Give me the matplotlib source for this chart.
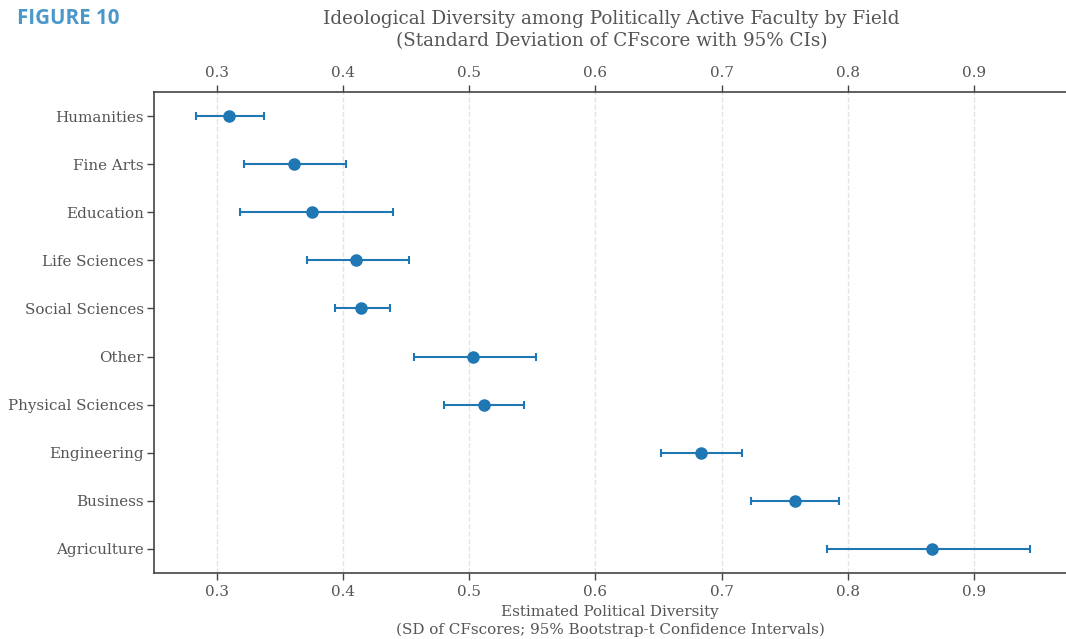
import numpy as np
import matplotlib
matplotlib.use("Agg")
import matplotlib.pyplot as plt

fields = ["Humanities", "Fine Arts", "Education", "Life Sciences", "Social Sciences",
          "Other", "Physical Sciences", "Engineering", "Business", "Agriculture"]
sd_est = [0.3095, 0.3606, 0.3753, 0.4105, 0.4143, 0.503, 0.5114, 0.684, 0.7578, 0.8671]
ci_low = [0.2829, 0.3214, 0.3181, 0.3713, 0.3937, 0.456, 0.4796, 0.6516, 0.723, 0.7839]
ci_high = [0.3371, 0.4022, 0.4395, 0.4525, 0.4371, 0.553, 0.5433, 0.7164, 0.7928, 0.9446]

txt = "#555555"
plt.rcParams["font.family"] = "DejaVu Serif"
plt.rcParams["text.color"] = txt
plt.rcParams["axes.labelcolor"] = txt
plt.rcParams["xtick.color"] = txt
plt.rcParams["ytick.color"] = txt

fig = plt.figure(figsize=(10.66, 6.39), dpi=100)
ax = fig.add_axes([154/1066, 1 - 573/639, 912/1066, (573-92)/639])

y = np.arange(len(fields))
est = np.array(sd_est)
err = np.vstack([est - np.array(ci_low), np.array(ci_high) - est])
ax.errorbar(est, y, xerr=err, fmt="o", color="#1f77b4", ms=8, elinewidth=1.5,
            capsize=3, capthick=1.5, zorder=3)

ax.set_yticks(y)
ax.set_yticklabels(fields, fontsize=10.9)
ax.set_ylim(len(fields) - 0.5, -0.5)
ax.set_xlim(0.25, 0.973)
ax.set_xticks([0.3, 0.4, 0.5, 0.6, 0.7, 0.8, 0.9])
ax.tick_params(axis="x", labelsize=10.9, top=True, labeltop=True, length=5, width=1,
               color="#444444", pad=3.5)
ax.tick_params(axis="y", length=5, width=1, color="#444444", pad=2.5)
ax.grid(axis="x", linestyle="--", color="#e3e3e3", linewidth=1)
ax.set_axisbelow(True)
for s in ["left", "top", "bottom"]:
    ax.spines[s].set_color("#444444")
    ax.spines[s].set_linewidth(1.2)
ax.spines["right"].set_visible(False)

ax.set_xlabel("Estimated Political Diversity\n(SD of CFscores; 95% Bootstrap-t Confidence Intervals)",
              fontsize=10.9, linespacing=1.35, labelpad=4.5)
fig.text(0.5735, 1 - 30/639, "Ideological Diversity among Politically Active Faculty by Field\n"
         "(Standard Deviation of CFscore with 95% CIs)", ha="center", va="center",
         fontsize=13.2, linespacing=1.3)
fig.text(17/1066, 1 - 18/639, "FIGURE 10", ha="left", va="center", fontsize=14.8,
         fontweight="bold", family="Open Sans", color="#4a98c9")

fig.savefig("out.png", dpi=100)
